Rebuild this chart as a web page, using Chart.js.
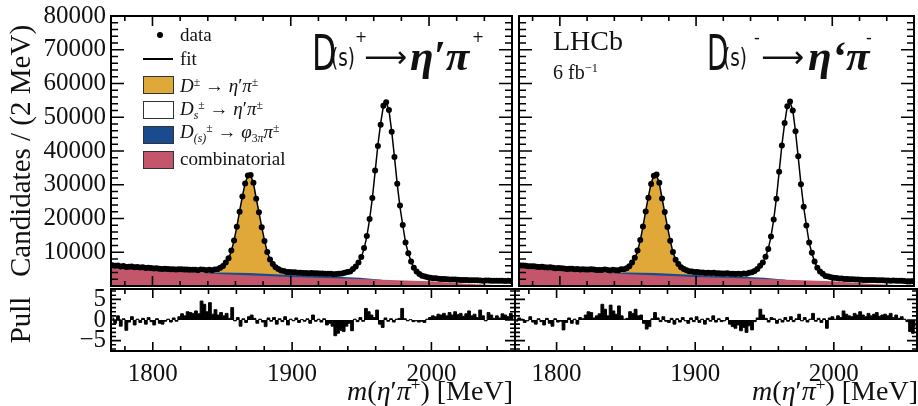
<!DOCTYPE html>
<html>
<head>
<meta charset="utf-8">
<script src="https://cdn.jsdelivr.net/npm/chart.js@4.4.2/dist/chart.umd.min.js"></script>
<style>
  body { margin: 0; width: 918px; height: 406px; overflow: hidden; position: relative; background: #fff;
         font-family: 'Liberation Serif', 'Times New Roman', serif; color: #111; }
  canvas { position: absolute; }
  .t { position: absolute; white-space: nowrap; line-height: 1; }
  .t sup { font-size: 0.62em; vertical-align: 0.55em; line-height: 0; }
  .t sub { font-size: 0.62em; vertical-align: -0.3em; line-height: 0; }
  .lg { font-size: 19px; left: 180px; }
  .box { position: absolute; left: 143px; width: 29px; height: 16px; border: 1px solid #333; }
  .nar { font-family: 'Liberation Sans Narrow', 'DejaVu Sans Condensed', sans-serif; transform-origin: left top; }
  .gk { font-family: 'Liberation Serif', serif; font-style: italic; font-weight: bold; }
</style>
</head>
<body>
<canvas id="mainPlus" width="516" height="290" style="left:0;top:0"></canvas>
<canvas id="pullPlus" width="516" height="127" style="left:0;top:279px"></canvas>
<canvas id="mainMinus" width="403" height="290" style="left:515px;top:0"></canvas>
<canvas id="pullMinus" width="403" height="127" style="left:515px;top:279px"></canvas>

<!-- legend -->
<div style="position:absolute;left:157px;top:32px;width:6px;height:6px;border-radius:3px;background:#000"></div>
<div class="t lg" style="top:25px">data</div>
<div style="position:absolute;left:143px;top:58px;width:30px;height:1.5px;background:#000"></div>
<div class="t lg" style="top:49px">fit</div>
<div class="box" style="top:76px;background:#e0a838"></div>
<div class="t lg" style="top:76px"><i>D</i><sup>±</sup> → <i>η</i>′<i>π</i><sup>±</sup></div>
<div class="box" style="top:101px;background:#fff"></div>
<div class="t lg" style="top:99px"><i>D</i><sub><i>s</i></sub><sup>±</sup> → <i>η</i>′<i>π</i><sup>±</sup></div>
<div class="box" style="top:126px;background:#1a4b8e"></div>
<div class="t lg" style="top:122px"><i>D</i><sub><i>(s)</i></sub><sup>±</sup> → <i>φ</i><sub>3<i>π</i></sub><i>π</i><sup>±</sup></div>
<div class="box" style="top:151px;background:#c4566b"></div>
<div class="t lg" style="top:149px">combinatorial</div>

<!-- decay titles -->
<div class="t nar" style="left:312px;top:28px;font-size:50px;transform:scaleX(.7)">D</div>
<div class="t nar" style="left:331px;top:46px;font-size:24px;transform:scaleX(.85)">(s)</div>
<div class="t nar" style="left:355px;top:29px;font-size:16px">+</div>
<div class="t" style="left:364px;top:42px;font-size:30px;font-family:'DejaVu Sans',sans-serif">⟶</div>
<div class="t gk" style="left:410px;top:34px;font-size:43px">η′π</div>
<div class="t nar" style="left:472px;top:29px;font-size:16px">+</div>

<div class="t nar" style="left:707px;top:28px;font-size:50px;transform:scaleX(.62)">D</div>
<div class="t nar" style="left:723px;top:46px;font-size:24px;transform:scaleX(.85)">(s)</div>
<div class="t nar" style="left:754px;top:28px;font-size:18px">-</div>
<div class="t" style="left:761px;top:42px;font-size:30px;font-family:'DejaVu Sans',sans-serif">⟶</div>
<div class="t gk" style="left:808px;top:34px;font-size:43px">η‘π</div>
<div class="t nar" style="left:866px;top:28px;font-size:18px">-</div>

<div class="t" style="left:553px;top:27px;font-size:28px">LHCb</div>
<div class="t" style="left:553px;top:62px;font-size:20px">6 fb<sup>−1</sup></div>

<!-- x axis titles -->
<div class="t" style="right:405px;top:377px;font-size:28px"><i>m</i>(<i>η</i>′<i>π</i><sup>+</sup>) [MeV]</div>
<div class="t" style="right:0;top:377px;font-size:28px"><i>m</i>(<i>η</i>′<i>π</i><sup>+</sup>) [MeV]</div>

<script>
// binning: 2 MeV bins from 1770 to 2060 MeV
const binLow = 1770;
const binWidth = 2;
const nBins = 145;
const massBins = Array.from({ length: nBins }, (_, i) => binLow + binWidth * (i + 0.5));

const massTicks = [1800, 1900, 2000];
const yieldTicks = [10000, 20000, 30000, 40000, 50000, 60000, 70000, 80000];
const pullTicks = [-5, 0, 5];

// total fit (candidates per bin)
const fitTotal = [
  6100, 6050, 5990, 5930, 5870, 5810, 5760, 5700, 5650, 5590,
  5540, 5490, 5440, 5390, 5340, 5290, 5240, 5190, 5140, 5100,
  5050, 5000, 4960, 4910, 4870, 4830, 4790, 4750, 4710, 4670,
  4630, 4600, 4570, 4550, 4540, 4550, 4600, 4700, 4900, 5250,
  5850, 6800, 8200, 10250, 13500, 17500, 22200, 26500, 30500, 32600,
  32700, 30500, 26000, 21800, 17500, 13500, 10000, 7900, 6500, 5600,
  5000, 4650, 4400, 4250, 4150, 4080, 4020, 3970, 3930, 3890,
  3860, 3830, 3800, 3780, 3760, 3740, 3720, 3710, 3700, 3700,
  3720, 3740, 3780, 3850, 4000, 4200, 4500, 5000, 5800, 6900,
  8600, 11000, 14600, 19700, 26000, 33800, 41700, 48200, 53300, 54500,
  52100, 45800, 38200, 30200, 23400, 18000, 12900, 9700, 7300, 5400,
  4300, 3600, 3100, 2800, 2580, 2420, 2290, 2190, 2110, 2040,
  1990, 1940, 1900, 1860, 1830, 1800, 1770, 1740, 1720, 1700,
  1680, 1660, 1640, 1620, 1600, 1590, 1570, 1550, 1540, 1520,
  1510, 1500, 1480, 1470, 1460
];

// data, D(s)+ sample
const dataPlus = [
  6140, 5990, 6070, 5810, 5890, 5620, 5720, 5760, 5560, 5600,
  5500, 5520, 5370, 5430, 5310, 5200, 5260, 5130, 5070, 5080,
  5060, 4960, 5000, 4890, 4930, 4930, 4860, 4890, 4830, 4780,
  4780, 4700, 4880, 4810, 4680, 4830, 4700, 4870, 4980, 5380,
  5930, 6930, 8240, 10550, 13480, 17580, 21980, 26550, 30400, 32740,
  32920, 30570, 25870, 21830, 17430, 13310, 10050, 7870, 6550, 5530,
  5020, 4620, 4450, 4170, 4160, 4070, 4050, 3930, 3940, 3870,
  3880, 3780, 3870, 3760, 3770, 3710, 3740, 3640, 3650, 3610,
  3490, 3540, 3630, 3680, 3900, 4150, 4330, 5010, 5770, 6950,
  8570, 11290, 14840, 19870, 26100, 34240, 41500, 47800, 53420, 54430,
  52170, 45690, 38240, 30270, 23830, 18040, 12880, 9710, 7270, 5390,
  4270, 3580, 3070, 2810, 2610, 2470, 2330, 2260, 2170, 2110,
  2040, 2020, 1950, 1950, 1890, 1870, 1810, 1800, 1810, 1740,
  1740, 1680, 1740, 1660, 1590, 1660, 1620, 1570, 1580, 1540,
  1570, 1550, 1510, 1530, 1500
];

// data, D(s)- sample
const dataMinus = [
  6080, 6090, 6010, 5880, 5860, 5870, 5720, 5620, 5670, 5560,
  5450, 5520, 5380, 5280, 5360, 5250, 5220, 5020, 5100, 5140,
  4990, 5010, 4890, 4950, 4890, 4910, 4930, 4870, 4740, 4740,
  4730, 4860, 4750, 4620, 4780, 4700, 4700, 4930, 4970, 5260,
  5880, 6960, 8350, 10510, 13620, 17660, 22080, 26140, 30220, 32650,
  33030, 30590, 25940, 21920, 17460, 13430, 10040, 7810, 6520, 5560,
  5040, 4640, 4350, 4280, 4120, 4130, 3980, 3980, 3870, 3920,
  3840, 3890, 3770, 3800, 3740, 3730, 3760, 3650, 3600, 3580,
  3650, 3580, 3670, 3660, 3910, 4040, 4470, 5040, 6000, 7000,
  8640, 10950, 14670, 19740, 25870, 33840, 41600, 48330, 53230, 54690,
  52010, 45860, 38470, 30170, 23490, 17930, 12920, 9860, 7270, 5430,
  4260, 3620, 2990, 2830, 2620, 2430, 2340, 2220, 2210, 2100,
  2040, 1980, 1970, 1910, 1920, 1850, 1800, 1810, 1760, 1760,
  1750, 1700, 1690, 1680, 1640, 1650, 1590, 1600, 1560, 1550,
  1520, 1490, 1370, 1350, 1400
];

// pulls per bin
const pullsPlus = [
  0.5, -0.8, 1.0, -1.5, 0.3, -2.5, -0.5, 0.8, -1.2, 0.2,
  -0.6, 0.4, -1.0, 0.6, -0.4, -1.2, 0.3, -0.8, -1.0, -0.3,
  0.2, -0.5, 0.5, -0.3, 0.8, 1.5, 1.0, 2.0, 1.8, 1.6,
  2.2, 1.5, 4.6, 3.8, 2.0, 4.2, 1.4, 2.5, 1.2, 1.8,
  1.0, 1.6, 0.4, 3.0, -0.2, 0.6, -1.5, 0.3, -0.6, 0.8,
  1.2, 0.4, -0.8, 0.2, -0.5, -1.6, 0.5, -0.3, 0.6, -1.0,
  0.3, -0.4, 0.8, -1.2, 0.2, -0.2, 0.5, -0.6, 0.1, -0.3,
  0.3, -0.8, 1.2, -0.3, 0.2, -0.5, 0.3, -1.2, -0.8, -1.5,
  -3.8, -3.2, -2.5, -2.8, -1.5, -0.8, -2.6, 0.2, -0.4, 0.6,
  -0.3, 2.8, 2.0, 1.2, 0.6, 2.4, -1.0, -1.8, 0.5, -0.3,
  0.3, -0.5, 0.2, 0.4, 2.8, 0.3, -0.2, 0.1, -0.4, -0.2,
  -0.5, -0.3, -0.6, 0.2, 0.6, 1.0, 0.8, 1.4, 1.2, 1.6,
  1.0, 1.8, 1.2, 2.0, 1.3, 1.6, 0.9, 1.5, 2.2, 1.0,
  1.4, 0.6, 2.4, 1.0, -0.2, 1.8, 1.2, 0.4, 1.0, 0.5,
  1.5, 1.2, 0.8, 1.6, 1.0
];
const pullsMinus = [
  -0.3, 0.5, 0.2, -0.6, -0.2, 0.8, -0.5, -1.0, 0.3, -0.4,
  -1.2, 0.4, -0.8, -1.5, 0.3, -0.5, -0.3, -2.4, -0.6, 0.5,
  -0.8, 0.2, -1.0, 0.6, 0.3, 1.2, 2.0, 1.8, 0.5, 1.0,
  1.5, 3.8, 2.6, 1.0, 3.6, 2.2, 1.4, 3.4, 1.0, 0.2,
  0.4, 2.0, 1.6, 2.6, 1.0, 1.2, -0.8, -2.2, -1.6, 0.3,
  1.8, 0.5, -0.4, 0.8, -0.3, -0.6, 0.4, -1.0, 0.3, -0.5,
  0.6, -0.2, -0.8, 0.5, -0.4, 0.8, -0.6, 0.2, -1.0, 0.4,
  -0.3, 1.0, -0.5, 0.3, -0.4, -0.2, 0.6, -1.0, -1.6, -2.0,
  -1.2, -2.6, -1.8, -3.0, -1.4, -2.4, -0.4, 0.5, 2.6, 1.2,
  0.4, -0.5, 0.6, 0.3, -0.8, 0.2, -0.5, 0.6, -0.3, 0.8,
  -0.4, 0.3, 1.4, -0.2, 0.6, -0.5, 0.2, 1.6, -0.3, 0.4,
  -0.6, 0.3, -2.0, 0.5, 0.8, 0.2, 1.0, 0.6, 2.2, 1.4,
  1.0, 0.8, 1.6, 1.2, 2.0, 1.2, 0.8, 1.6, 1.0, 1.4,
  1.8, 0.9, 1.2, 1.4, 1.0, 1.6, 0.6, 1.2, 0.4, 0.8,
  0.2, -0.4, -2.8, -3.2, -1.5
];

// fit components (stacked tops)
const combMass = [1770, 1800, 1850, 1900, 1950, 2000, 2030, 2060];
const combYield = [5550, 4800, 3500, 2700, 2100, 1400, 600, 100];
const phiMass = [1838, 1850, 1870, 1900, 1930, 1950, 1966];
const phiTop = [3810, 4000, 3830, 3250, 2800, 2450, 1880];
const dPlusMass = massBins.slice(33, 67);
const dPlusTop = [
  3800, 3840, 3900, 4000, 4150, 4450, 4900, 5600, 6550, 7950,
  10000, 13250, 17250, 21950, 26250, 30250, 32350, 32450, 30250, 25750,
  21550, 17250, 13250, 9750, 7650, 6250, 5350, 4750, 4350, 4050,
  3800, 3550, 3350, 3200
];

const serif = "'Liberation Serif', 'Times New Roman', serif";
const pts = (xs, ys) => xs.map((x, i) => ({ x: x, y: ys[i] }));

// inner ticks and frame, like ROOT/LHCb style
const frameTicks = {
  id: 'frameTicks',
  afterDatasetsDraw(chart, args, o) {
    const { ctx, chartArea: a } = chart;
    const xs = chart.scales.x, ys = chart.scales.y;
    ctx.save();
    ctx.strokeStyle = '#000';
    ctx.lineWidth = 1.6;
    ctx.beginPath();
    for (let v = o.xStart; v < xs.max; v += o.xMinor) {
      const px = xs.getPixelForValue(v);
      const len = v % o.xMajor === 0 ? o.xLong : o.xShort;
      ctx.moveTo(px, a.top); ctx.lineTo(px, a.top + len);
      ctx.moveTo(px, a.bottom); ctx.lineTo(px, a.bottom - len);
    }
    for (let v = o.yStart; v < ys.max; v += o.yMinor) {
      const py = ys.getPixelForValue(v);
      const len = Math.abs(v % o.yMajor) < 1e-6 ? o.yLong : o.yShort;
      ctx.moveTo(a.left, py); ctx.lineTo(a.left + len, py);
      ctx.moveTo(a.right, py); ctx.lineTo(a.right - len, py);
    }
    ctx.stroke();
    ctx.lineWidth = 2;
    ctx.strokeRect(a.left, a.top, a.right - a.left, a.bottom - a.top);
    ctx.restore();
  }
};

// fixed axis boxes, no extra padding for overhanging labels
const fixWidth = w => s => { s.width = w; s.paddingTop = 0; s.paddingBottom = 0; };
const fixHeight = h => s => { s.height = h; s.paddingLeft = 0; s.paddingRight = 0; };

function mainChart(id, data, withAxis) {
  new Chart(document.getElementById(id), {
    type: 'line',
    data: {
      datasets: [
        { data: pts(massBins, data), showLine: false, pointRadius: 3, pointBackgroundColor: '#000',
          pointBorderWidth: 0, order: 0 },
        { data: pts(massBins, fitTotal), borderColor: '#000', borderWidth: 1.5, pointRadius: 0, order: 1 },
        { data: pts(combMass, combYield), borderWidth: 0, pointRadius: 0, fill: 'origin',
          backgroundColor: '#c4566b', order: 2 },
        { data: pts(phiMass, phiTop), borderWidth: 0, pointRadius: 0, fill: 'origin',
          backgroundColor: '#1a4b8e', order: 3 },
        { data: pts(dPlusMass, dPlusTop), borderWidth: 0, pointRadius: 0, fill: 'origin',
          backgroundColor: '#e0a838', order: 4 }
      ]
    },
    options: {
      responsive: false,
      animation: false,
      events: [],
      layout: { padding: { top: 16, right: 1, bottom: 1, left: 0 } },
      plugins: {
        legend: { display: false },
        tooltip: { enabled: false },
        frameTicks: { xStart: 1780, xMinor: 20, xMajor: 100, xLong: 10, xShort: 5,
                      yStart: 2000, yMinor: 2000, yMajor: 10000, yLong: 13, yShort: 7 }
      },
      scales: {
        x: { type: 'linear', min: 1770, max: 2060, display: false },
        y: {
          min: 0, max: 80000,
          display: withAxis,
          afterFit: fixWidth(withAxis ? 111 : 0),
          afterBuildTicks: s => { s.ticks = yieldTicks.map(v => ({ value: v })); },
          grid: { display: false, drawTicks: false },
          border: { display: false },
          ticks: { color: '#111', padding: 5, autoSkip: false, font: { family: serif, size: 25 },
                   callback: v => String(v) },
          title: { display: true, text: 'Candidates / (2 MeV)', color: '#111',
                   font: { family: serif, size: 29 }, padding: { top: 5, bottom: 0 } }
        }
      }
    },
    plugins: [frameTicks]
  });
}

function pullChart(id, pulls, withAxis) {
  new Chart(document.getElementById(id), {
    type: 'line',
    data: {
      datasets: [
        { data: pts(massBins, pulls), stepped: 'middle', borderColor: '#000', borderWidth: 1,
          backgroundColor: '#000', fill: 'origin', pointRadius: 0 }
      ]
    },
    options: {
      responsive: false,
      animation: false,
      events: [],
      layout: { padding: { top: 10, right: 1, bottom: 0, left: 0 } },
      plugins: {
        legend: { display: false },
        tooltip: { enabled: false },
        frameTicks: { xStart: 1780, xMinor: 20, xMajor: 100, xLong: 9, xShort: 5,
                      yStart: -7, yMinor: 1, yMajor: 5, yLong: 10, yShort: 5 }
      },
      scales: {
        x: {
          type: 'linear', min: 1770, max: 2060,
          afterFit: fixHeight(55),
          afterBuildTicks: s => { s.ticks = massTicks.map(v => ({ value: v })); },
          grid: { display: false, drawTicks: false },
          border: { display: false },
          ticks: { color: '#111', padding: 8, maxRotation: 0, autoSkip: false,
                   font: { family: serif, size: 25 }, callback: v => String(v) }
        },
        y: {
          min: -7.5, max: 7.5,
          display: withAxis,
          afterFit: fixWidth(withAxis ? 111 : 0),
          afterBuildTicks: s => { s.ticks = pullTicks.map(v => ({ value: v })); },
          grid: { display: false, drawTicks: false },
          border: { display: false },
          ticks: { color: '#111', padding: 5, autoSkip: false, font: { family: serif, size: 25 },
                   callback: v => (v < 0 ? '\u2212' + Math.abs(v) : String(v)) },
          title: { display: true, text: 'Pull', color: '#111',
                   font: { family: serif, size: 29 }, padding: { top: 5, bottom: 0 } }
        }
      }
    },
    plugins: [frameTicks]
  });
}

mainChart('mainPlus', dataPlus, true);
mainChart('mainMinus', dataMinus, false);
pullChart('pullPlus', pullsPlus, true);
pullChart('pullMinus', pullsMinus, false);
</script>
</body>
</html>
